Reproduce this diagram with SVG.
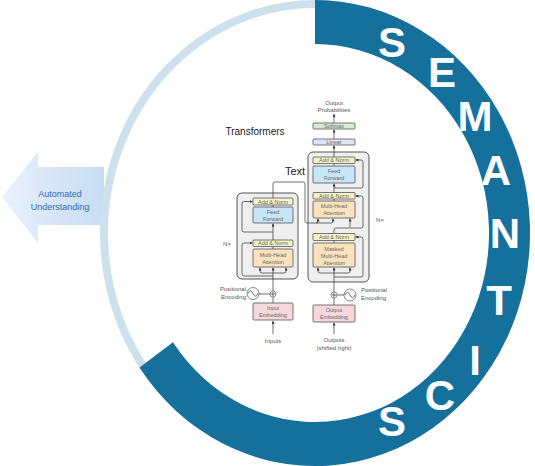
<svg xmlns="http://www.w3.org/2000/svg" width="535" height="466" viewBox="0 0 535 466">
<defs>
<linearGradient id="ag" x1="0" y1="0" x2="1" y2="0">
<stop offset="0" stop-color="#eaf2fc"/>
<stop offset="0.4" stop-color="#dbe8f8"/>
<stop offset="1" stop-color="#c8dcf3"/>
</linearGradient>
<marker id="ah" markerUnits="userSpaceOnUse" markerWidth="3" markerHeight="3" refX="3" refY="1.5" orient="auto">
<path d="M0,0 L3,1.5 L0,3 z" fill="#333"/>
</marker>
<style>
.sm{font-family:"Liberation Sans",Arial,sans-serif;font-size:5.5px;fill:#666;text-anchor:middle}
.lbl{font-family:"Liberation Sans",Arial,sans-serif;font-size:6px;fill:#555}
.ln{fill:none;stroke:#333;stroke-width:0.7}
.la{fill:none;stroke:#333;stroke-width:0.7;marker-end:url(#ah)}
.bx{stroke:#555;stroke-width:0.8}
.outer{fill:#efefef;stroke:#444;stroke-width:0.9}
.an{fill:#f2f3c6}
.ff{fill:#c6e5f6}
.mha{fill:#fbe2bf}
.emb{fill:#f6d8dc}
.letter{font-family:"Liberation Sans",Arial,sans-serif;font-weight:bold;font-size:42px;fill:#fff;text-anchor:middle}
</style>
</defs>

<g id="arrow-understanding">
<path d="M2,197 L38,152 L38,167 L104,167 L104,225 L38,225 L38,243 Z" fill="url(#ag)"/>
<text x="60" y="197" font-family="Liberation Sans, Arial, sans-serif" font-size="9" fill="#2f6db3" text-anchor="middle">Automated</text>
<text x="60" y="210" font-family="Liberation Sans, Arial, sans-serif" font-size="9" fill="#2f6db3" text-anchor="middle">Understanding</text>
</g>

<g id="ring">
<ellipse cx="315" cy="233" rx="211" ry="229" fill="none" stroke="#cde1ec" stroke-width="8"/>
<path d="M315,0 A215,233 0 1 1 139.5,367.6 L173,342.2 A174,189 0 1 0 315,44 Z" fill="#15709c"/>
</g>

<g id="semantics">
<text class="letter" x="392" y="57">S</text>
<text class="letter" x="442" y="87">E</text>
<text class="letter" x="475" y="131">M</text>
<text class="letter" x="496" y="185">A</text>
<text class="letter" x="505" y="248">N</text>
<text class="letter" x="499" y="315">T</text>
<text class="letter" x="475" y="375">I</text>
<text class="letter" x="440" y="410">C</text>
<text class="letter" x="392" y="436">S</text>
</g>

<g id="titles">
<text x="255" y="135" font-family="Liberation Sans, Arial, sans-serif" font-size="10" fill="#222" text-anchor="middle">Transformers</text>
<text x="295" y="175" font-family="Liberation Sans, Arial, sans-serif" font-size="11" fill="#222" text-anchor="middle">Text</text>
</g>

<g id="encoder">
<rect class="outer" x="237" y="193" width="61" height="86" rx="5"/>
<rect class="bx an" x="253" y="198" width="40" height="7" rx="1"/>
<text class="sm" x="273" y="203.8">Add &amp; Norm</text>
<rect class="bx ff" x="253" y="207" width="40" height="16" rx="1"/>
<text class="sm" x="273" y="214">Feed</text>
<text class="sm" x="273" y="221">Forward</text>
<rect class="bx an" x="253" y="240" width="40" height="6.5" rx="1"/>
<text class="sm" x="273" y="245.3">Add &amp; Norm</text>
<rect class="bx mha" x="253" y="249" width="40" height="18" rx="1"/>
<text class="sm" x="273" y="256.5">Multi-Head</text>
<text class="sm" x="273" y="263.5">Attention</text>
<text class="lbl" x="227" y="246" text-anchor="middle">N×</text>
</g>

<g id="encoder-input">
<rect class="bx emb" x="253" y="303" width="40" height="17" rx="1"/>
<text class="sm" x="273" y="310">Input</text>
<text class="sm" x="273" y="317">Embedding</text>
<circle cx="273" cy="294" r="3" fill="#fff" stroke="#333" stroke-width="0.6"/>
<path class="ln" d="M271,294 L275,294 M273,292 L273,296"/>
<circle cx="253" cy="293.5" r="6" fill="#fff" stroke="#333" stroke-width="0.6"/>
<path class="ln" d="M248,293.5 Q250.5,288 253,293.5 T258,293.5"/>
<text class="lbl" x="246" y="291" text-anchor="end">Positional</text>
<text class="lbl" x="246" y="299" text-anchor="end">Encoding</text>
<text class="lbl" x="273" y="343" text-anchor="middle">Inputs</text>
</g>

<g id="decoder">
<rect class="outer" x="308" y="152" width="61" height="130" rx="5"/>
<rect class="bx an" x="313" y="157" width="42" height="6.5" rx="1"/>
<text class="sm" x="334" y="162.3">Add &amp; Norm</text>
<rect class="bx ff" x="313" y="166" width="42" height="17" rx="1"/>
<text class="sm" x="334" y="173">Feed</text>
<text class="sm" x="334" y="180">Forward</text>
<rect class="bx an" x="313" y="192.5" width="42" height="6.5" rx="1"/>
<text class="sm" x="334" y="197.8">Add &amp; Norm</text>
<rect class="bx mha" x="313" y="201" width="42" height="17" rx="1"/>
<text class="sm" x="334" y="208">Multi-Head</text>
<text class="sm" x="334" y="215">Attention</text>
<rect class="bx an" x="313" y="233.5" width="42" height="7" rx="1"/>
<text class="sm" x="334" y="239">Add &amp; Norm</text>
<rect class="bx mha" x="313" y="243" width="42" height="24" rx="1"/>
<text class="sm" x="334" y="251">Masked</text>
<text class="sm" x="334" y="258">Multi-Head</text>
<text class="sm" x="334" y="265">Attention</text>
<text class="lbl" x="380" y="222" text-anchor="middle">N×</text>
</g>

<g id="decoder-output">
<rect class="bx" x="313" y="139" width="42" height="6" rx="1" fill="#dfe4f4"/>
<text class="sm" x="334" y="144">Linear</text>
<rect class="bx" x="313" y="123" width="42" height="6" rx="1" fill="#d6ebd3"/>
<text class="sm" x="334" y="128">Softmax</text>
<text class="lbl" x="334" y="105" text-anchor="middle">Output</text>
<text class="lbl" x="334" y="112" text-anchor="middle">Probabilities</text>
</g>

<g id="decoder-input">
<rect class="bx emb" x="313" y="305" width="42" height="17" rx="1"/>
<text class="sm" x="334" y="312">Output</text>
<text class="sm" x="334" y="319">Embedding</text>
<circle cx="334" cy="295" r="3" fill="#fff" stroke="#333" stroke-width="0.6"/>
<path class="ln" d="M332,295 L336,295 M334,293 L334,297"/>
<circle cx="350" cy="295" r="6" fill="#fff" stroke="#333" stroke-width="0.6"/>
<path class="ln" d="M345,295 Q347.5,289.5 350,295 T355,295"/>
<text class="lbl" x="361" y="292">Positional</text>
<text class="lbl" x="361" y="300">Encoding</text>
<text class="lbl" x="334" y="342" text-anchor="middle">Outputs</text>
<text class="lbl" x="334" y="350" text-anchor="middle">(shifted right)</text>
</g>

<g id="connectors">
<path class="la" d="M273,334 L273,321"/>
<path class="ln" d="M273,303 L273,297 M259,294 L270,294"/>
<path class="la" d="M273,291 L273,267.5"/>
<path class="la" d="M273,273 L262,273 Q260,273 260,271 L260,267.5"/>
<path class="la" d="M273,273 L284,273 Q286,273 286,271 L286,267.5"/>
<path class="la" d="M273,276 L244,276 Q242,276 242,274 L242,245 Q242,243 244,243 L252.5,243"/>
<path class="ln" d="M273,249 L273,246.5"/>
<path class="la" d="M273,240 L273,223.5"/>
<path class="la" d="M273,232 L244,232 Q242,232 242,230 L242,203.5 Q242,201.5 244,201.5 L252.5,201.5"/>
<path class="ln" d="M273,207 L273,205"/>
<path class="ln" d="M273,198 L273,184 Q273,182 275,182 L303,182 Q305,182 305,184 L305,221 Q305,223 307,223 L331,223"/>
<path class="la" d="M316,223 Q318,223 318,221 L318,218.5"/>
<path class="la" d="M331,223 Q333,223 333,221 L333,218.5"/>
<path class="la" d="M334,334 L334,322.5"/>
<path class="ln" d="M334,305 L334,298 M344,295 L337,295"/>
<path class="la" d="M334,292 L334,267.5"/>
<path class="la" d="M334,273 L320,273 Q318,273 318,271 L318,267.5"/>
<path class="la" d="M334,273 L348,273 Q350,273 350,271 L350,267.5"/>
<path class="la" d="M334,277 L361,277 Q363,277 363,275 L363,239 Q363,237 361,237 L355.5,237"/>
<path class="ln" d="M334,243 L334,240.5"/>
<path class="la" d="M334,233.5 L334,230 Q334,228 336,228 L348,228 Q350,228 350,226 L350,218.5"/>
<path class="la" d="M350,228 L361,228 Q363,228 363,226 L363,198 Q363,196 361,196 L355.5,196"/>
<path class="ln" d="M334,201 L334,199"/>
<path class="la" d="M334,192.5 L334,183.5"/>
<path class="la" d="M334,188 L361,188 Q363,188 363,186 L363,162 Q363,160 361,160 L355.5,160"/>
<path class="ln" d="M334,166 L334,163.5"/>
<path class="la" d="M334,157 L334,145.5"/>
<path class="la" d="M334,139 L334,129.5"/>
<path class="la" d="M334,123 L334,114"/>
</g>
</svg>
